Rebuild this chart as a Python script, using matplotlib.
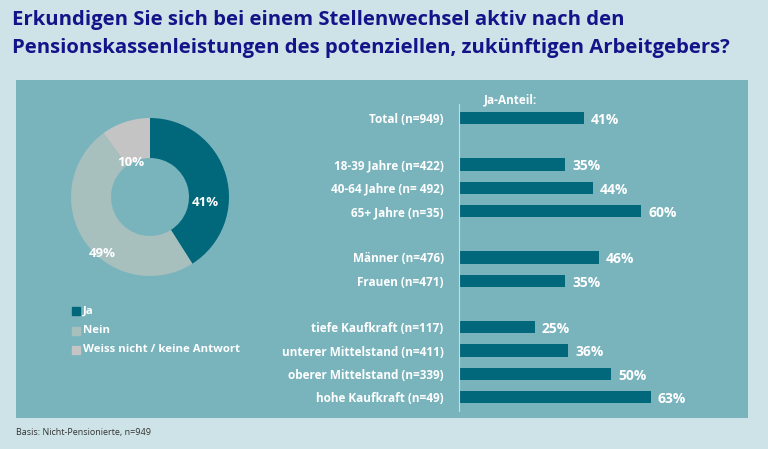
import matplotlib.pyplot as plt
import numpy as np

# data
pie_labels = ["Ja", "Nein", "Weiss nicht / keine Antwort"]
pie_values = [41, 49, 10]

bar_labels = ["Total (n=949)", "18-39 Jahre (n=422)", "40-64 Jahre (n= 492)", "65+ Jahre (n=35)",
              "Männer (n=476)", "Frauen (n=471)", "tiefe Kaufkraft (n=117)",
              "unterer Mittelstand (n=411)", "oberer Mittelstand (n=339)", "hohe Kaufkraft (n=49)"]
bar_values = [41, 35, 44, 60, 46, 35, 25, 36, 50, 63]
bar_pos = [0, 2, 3, 4, 6, 7, 9, 10, 11, 12]

W, H = 768, 449
bg = "#cde3e7"
panel = "#79b4bd"
teal = "#00687a"
pie_colors = [teal, "#a7bfbd", "#c4c4c4"]
navy = "#14148a"
FONT = "Open Sans"

fig = plt.figure(figsize=(W / 100, H / 100), dpi=100, facecolor=bg)

def fx(px):
    return px / W

def fy(py):
    return 1 - py / H

# panel as a background axes
axp = fig.add_axes([fx(16), fy(418), fx(748 - 16), (418 - 80) / H], zorder=-5)
axp.set_facecolor(panel)
axp.set_xticks([])
axp.set_yticks([])
for s in axp.spines.values():
    s.set_visible(False)

# title
fig.text(fx(12), fy(20), "Erkundigen Sie sich bei einem Stellenwechsel aktiv nach den",
         fontsize=14.6, fontweight="bold", color=navy, family=FONT, va="center")
fig.text(fx(12), fy(48), "Pensionskassenleistungen des potenziellen, zukünftigen Arbeitgebers?",
         fontsize=14.6, fontweight="bold", color=navy, family=FONT, va="center")
fig.text(fx(16), fy(433), "Basis: Nicht-Pensionierte, n=949", fontsize=6.5,
         color="#333333", family=FONT, va="center")

# donut
cx, cy, r = 150, 197, 85
ax1 = fig.add_axes([fx(cx - r), fy(cy + r), 2 * r / W, 2 * r / H])
ax1.set_facecolor("none")
wedges, _ = ax1.pie(pie_values, colors=pie_colors, startangle=90, counterclock=False,
                    radius=79 / 85, wedgeprops=dict(width=40 / 85, linewidth=0))
ax1.set_xlim(-1, 1)
ax1.set_ylim(-1, 1)
# label positions nudged like the original (angle in deg, radius)
label_spots = [(-6, 0.65), (230, 0.87), (119, 0.47)]
for v, (ang, rr) in zip(pie_values, label_spots):
    a = np.deg2rad(ang)
    ax1.text(rr * np.cos(a), rr * np.sin(a), f"{v}%", ha="center", va="center",
             color="white", fontsize=9.5, fontweight="bold", family=FONT)

# legend
for i, (lab, c) in enumerate(zip(pie_labels, pie_colors)):
    y = fy(311 + i * 19.5)
    fig.patches.append(plt.Rectangle((fx(72), y - 4 / H), fx(8), 8 / H,
                                     transform=fig.transFigure, color=c))
    fig.text(fx(83), y, lab, color="white", fontsize=8.2, fontweight="bold",
             family=FONT, va="center")

# bars
unit = 23.25
top = 118 - 0.6 * unit
bottom = 118 + 12.6 * unit
xscale = 3.04
xmax = 90
ax2 = fig.add_axes([fx(459), fy(bottom), xmax * xscale / W, (bottom - top) / H])
ax2.set_facecolor("none")
ax2.barh(bar_pos, bar_values, height=0.52, color=teal)
ax2.set_ylim(12.6, -0.6)
ax2.set_xlim(0, xmax)
for s in ["top", "right", "bottom"]:
    ax2.spines[s].set_visible(False)
ax2.spines["left"].set_color("#c5dde1")
ax2.spines["left"].set_linewidth(0.8)
ax2.set_xticks([])
ax2.set_yticks(bar_pos)
ax2.set_yticklabels(bar_labels, color="white", fontsize=8.5, fontweight="bold", family=FONT)
ax2.tick_params(axis="y", length=0, pad=11)
for p, v in zip(bar_pos, bar_values):
    ax2.text(v + 2.3, p + 0.08, f"{v}%", color="white", fontsize=10, fontweight="bold",
             family=FONT, va="center", ha="left")
ax2.text(17, -0.78, "Ja-Anteil:", color="white", fontsize=8.5, fontweight="bold",
         family=FONT, ha="center", va="center", clip_on=False)

fig.savefig("out.png", dpi=100, facecolor=bg)
